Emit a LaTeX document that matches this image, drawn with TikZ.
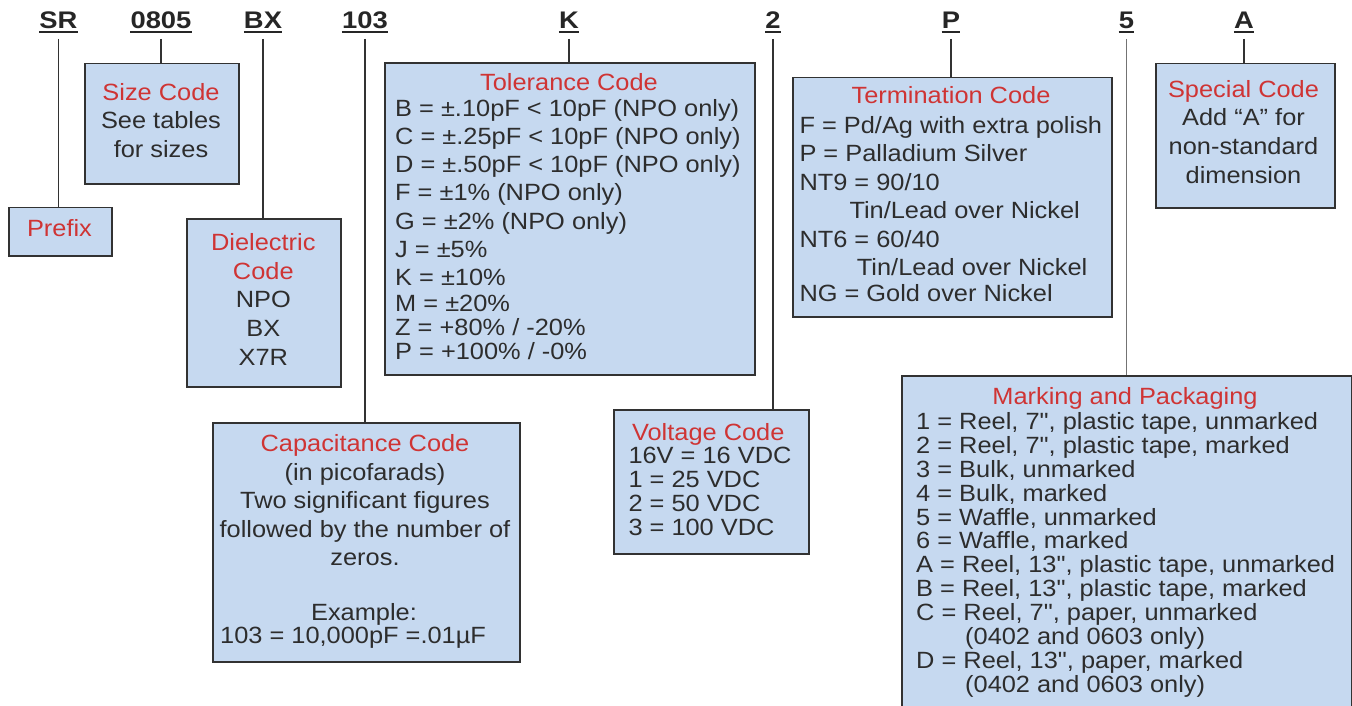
\documentclass[tikz,border=0pt]{standalone}
\usepackage{fontspec}
\setmainfont{Liberation Sans}[FakeStretch=1.08]
\newfontfamily\bodyfont{Liberation Sans}[FakeStretch=1.08]
\newfontfamily\hdrfont{Liberation Sans}[FakeStretch=1.14]
\definecolor{boxfill}{RGB}{198,217,240}
\definecolor{boxline}{RGB}{50,50,50}
\definecolor{titlered}{RGB}{207,52,52}
\definecolor{bodytext}{RGB}{45,45,45}
\tikzset{
  codebox/.style={draw=boxline, fill=boxfill, line width=1.8pt, anchor=north west, inner sep=0pt},
  hdr/.style={font=\hdrfont\bfseries\fontsize{24}{28}\selectfont, text=black!85, inner sep=0pt, anchor=base},
  ul/.style={line width=1.6pt, draw=black!85},
  conn/.style={line width=1.8pt, draw=boxline},
  ttl/.style={font=\bodyfont\fontsize{23.5}{28.5}\selectfont, text=titlered, inner sep=0pt, anchor=base},
  body/.style={font=\bodyfont\fontsize{23.5}{#1}\selectfont, text=bodytext, inner sep=0pt, anchor=base west, align=left},
  cbody/.style={font=\bodyfont\fontsize{23.5}{#1}\selectfont, text=bodytext, inner sep=0pt, anchor=base, align=center},
}
\begin{document}
\begin{tikzpicture}[x=1pt,y=-1pt]
\useasboundingbox (0,0) rectangle (1352,706);
\clip (0,0) rectangle (1352,706);
\fill[white] (0,0) rectangle (1352,706);

% boxes
\node[codebox, minimum width=103pt, minimum height=48.5pt] (prefix) at (8,206.5) {};
\node[codebox, minimum width=154pt, minimum height=120.3pt] (size) at (84,62.7) {};
\node[codebox, minimum width=154pt, minimum height=168pt] (diel) at (186,218) {};
\node[codebox, minimum width=370pt, minimum height=312pt] (tol) at (384,62) {};
\node[codebox, minimum width=307.3pt, minimum height=239pt] (cap) at (211.7,422) {};
\node[codebox, minimum width=195.3pt, minimum height=144pt] (volt) at (612.7,409) {};
\node[codebox, minimum width=319.3pt, minimum height=239.3pt] (term) at (791.7,76.7) {};
\node[codebox, minimum width=179pt, minimum height=144pt] (spec) at (1155,62.7) {};
\node[codebox, minimum width=450.3pt, minimum height=360pt] (mark) at (900.7,375) {};

% headers
\node[hdr] (hSR) at (58.5,28.3) {SR};
\node[hdr] (h0805) at (161,28.3) {0805};
\node[hdr] (hBX) at (263,28.3) {BX};
\node[hdr] (h103) at (365,28.3) {103};
\node[hdr] (hK) at (569,28.3) {K};
\node[hdr] (h2) at (773,28.3) {2};
\node[hdr] (hP) at (951,28.3) {P};
\node[hdr] (h5) at (1126.5,28.3) {5};
\node[hdr] (hA) at (1244,28.3) {A};

\foreach \h/\b in {hSR/prefix, h0805/size, hBX/diel, h103/cap, hK/tol, h2/volt, hP/term, hA/spec}{
  \draw[ul] ([yshift=-3.7pt]\h.base west) -- ([yshift=-3.7pt]\h.base east);
  \draw[conn] ([yshift=-10.7pt]\h.base) -- (\h.base |- \b.north);
}
\draw[ul] ([yshift=-3.7pt]h5.base west) -- ([yshift=-3.7pt]h5.base east);
\draw[conn, draw=black!55] ([yshift=-10.7pt]h5.base) -- (h5.base |- mark.north);

% texts (multi-line nodes anchored at the baseline of their last line)
\node[ttl] (tPrefix) at (59.5,236) {Prefix};
\node[cbody=28.6] (tSize) at (161,157.3) {\textcolor{titlered}{Size Code}\\See tables\\for sizes};
\node[cbody=28.6] (tDiel) at (263.3,365) {\textcolor{titlered}{Dielectric}\\\textcolor{titlered}{Code}\\NPO\\BX\\X7R};

\node[ttl] (tTolT) at (569,90.7) {Tolerance Code};
\node[body=28.3] (tTol) at (395,359.3) {B = ±.10pF < 10pF (NPO only)\\C = ±.25pF < 10pF (NPO only)\\D = ±.50pF < 10pF (NPO only)\\F = ±1\% (NPO only)\\G = ±2\% (NPO only)\\J = ±5\%\\K = ±10\%\\[-2.4pt]M = ±20\%\\[-5pt]Z = +80\% / -20\%\\[-4pt]P = +100\% / -0\%};

\node[ttl] (tTermT) at (951,104) {Termination Code};
\node[body=28.5] (tTerm) at (799.3,301) {F = Pd/Ag with extra polish\\P = Palladium Silver\\NT9 = 90/10\\\hspace*{50pt}Tin/Lead over Nickel\\NT6 = 60/40\\\hspace*{57.4pt}Tin/Lead over Nickel\\[-3.3pt]NG = Gold over Nickel};

\node[cbody=28.7] (tSpec) at (1243.5,183.3) {\textcolor{titlered}{Special Code}\\Add “A” for\\non-standard\\dimension};

\node[cbody=28.5] (tCap) at (365,565.7) {\textcolor{titlered}{Capacitance Code}\\(in picofarads)\\Two significant figures\\followed by the number of\\zeros.};
\node[cbody=28.5] (tEx) at (364,620) {Example:};
\node[body=28.5] (tEx2) at (220,643.3) {103 = 10,000pF =.01µF};

\node[ttl] (tVoltT) at (708.3,440) {Voltage Code};
\node[body=24] (tVolt) at (628.3,535) {16V = 16 VDC\\1 = 25 VDC\\2 = 50 VDC\\3 = 100 VDC};

\node[ttl] (tMarkT) at (1125,404) {Marking and Packaging};
\node[body=23.9] (tMark) at (916,692.3) {1 = Reel, 7", plastic tape, unmarked\\2 = Reel, 7", plastic tape, marked\\3 = Bulk, unmarked\\4 = Bulk, marked\\5 = Waffle, unmarked\\6 = Waffle, marked\\A = Reel, 13", plastic tape, unmarked\\B = Reel, 13", plastic tape, marked\\C = Reel, 7", paper, unmarked\\\hspace*{49pt}(0402 and 0603 only)\\D = Reel, 13", paper, marked\\\hspace*{49pt}(0402 and 0603 only)};
\end{tikzpicture}
\end{document}
